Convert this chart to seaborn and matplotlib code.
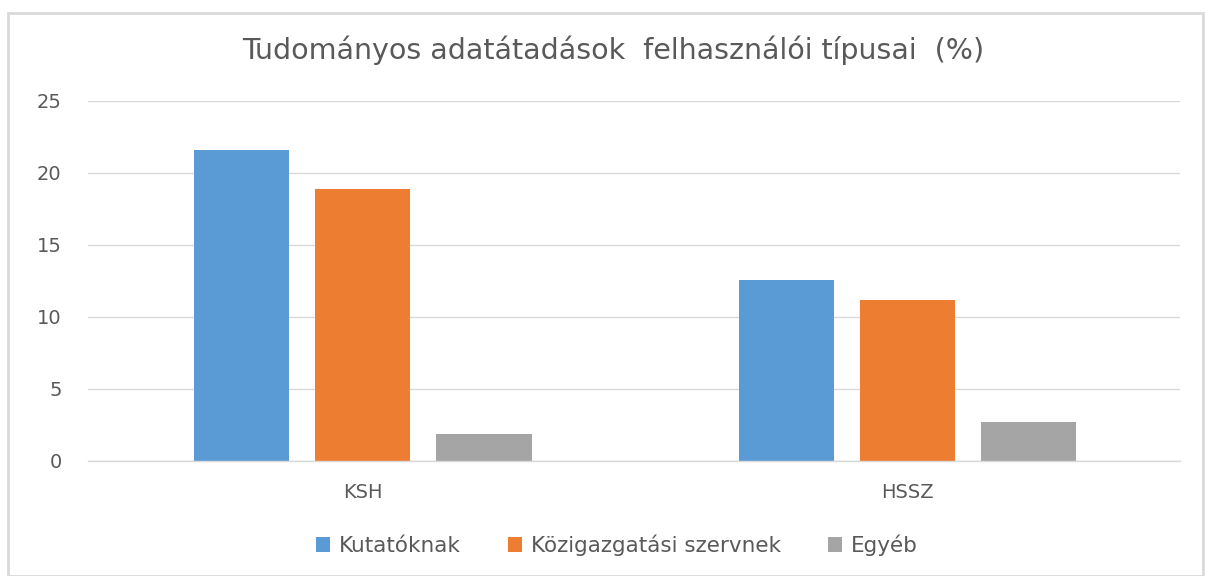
import matplotlib
matplotlib.use("Agg")
import matplotlib.pyplot as plt
import seaborn as sns
import pandas as pd
from matplotlib.patches import Rectangle

categories = ["KSH", "HSSZ"]
series = ["Kutatóknak", "Közigazgatási szervnek", "Egyéb"]
kutatoknak = [21.6, 12.6]
kozigazgatasi = [18.9, 11.2]
egyeb = [1.9, 2.7]
colors = ["#5B9BD5", "#ED7D31", "#A5A5A5"]
title = "Tudományos adatátadások  felhasználói típusai  (%)"

rows = []
for name, vals in zip(series, [kutatoknak, kozigazgatasi, egyeb]):
    for c, v in zip(categories, vals):
        rows.append({"cat": c, "series": name, "value": v})
df = pd.DataFrame(rows)

sns.set_theme(style="white")
plt.rcParams['font.family'] = ['DejaVu Sans']
text_color = "#595959"

fig = plt.figure(figsize=(12.05, 5.76), dpi=100)
ax = fig.add_axes([0.073, 0.1997, 0.906, 0.625])
sns.barplot(data=df, x="cat", y="value", hue="series", order=categories,
            hue_order=series, palette=colors, width=0.667, gap=0.215,
            saturation=1, ax=ax, legend=True, edgecolor="none")

ax.set_xlim(-0.505, 1.5)
ax.set_ylim(0, 25)
ax.set_yticks([0, 5, 10, 15, 20, 25])
ax.yaxis.grid(True, color="#D9D9D9", linewidth=1)
ax.set_axisbelow(True)
for s in ["left", "right", "top"]:
    ax.spines[s].set_visible(False)
ax.spines["bottom"].set_color("#D9D9D9")
ax.spines["bottom"].set_linewidth(1)
ax.set_xlabel("")
ax.set_ylabel("")
ax.tick_params(axis="both", length=0, labelsize=14, colors=text_color)
ax.tick_params(axis="y", pad=19)
ax.tick_params(axis="x", pad=16)

fig.text(0.509, 0.913, title, ha="center", va="center", fontsize=20.5, color=text_color)

handles, labels = ax.get_legend_handles_labels()
ax.legend_.remove()
fig.legend(handles, labels, loc="center", bbox_to_anchor=(0.512, 0.053), ncol=3,
           frameon=False, fontsize=15.5, handlelength=0.65, handleheight=0.65,
           handletextpad=0.4, columnspacing=2.2, labelcolor=text_color)

fig.patches.append(Rectangle((8/1205, 0), 1195/1205, 1 - 13/576, transform=fig.transFigure,
                             fill=False, edgecolor="#D9D9D9", linewidth=2))

fig.savefig("out.png", dpi=100, facecolor="white")
